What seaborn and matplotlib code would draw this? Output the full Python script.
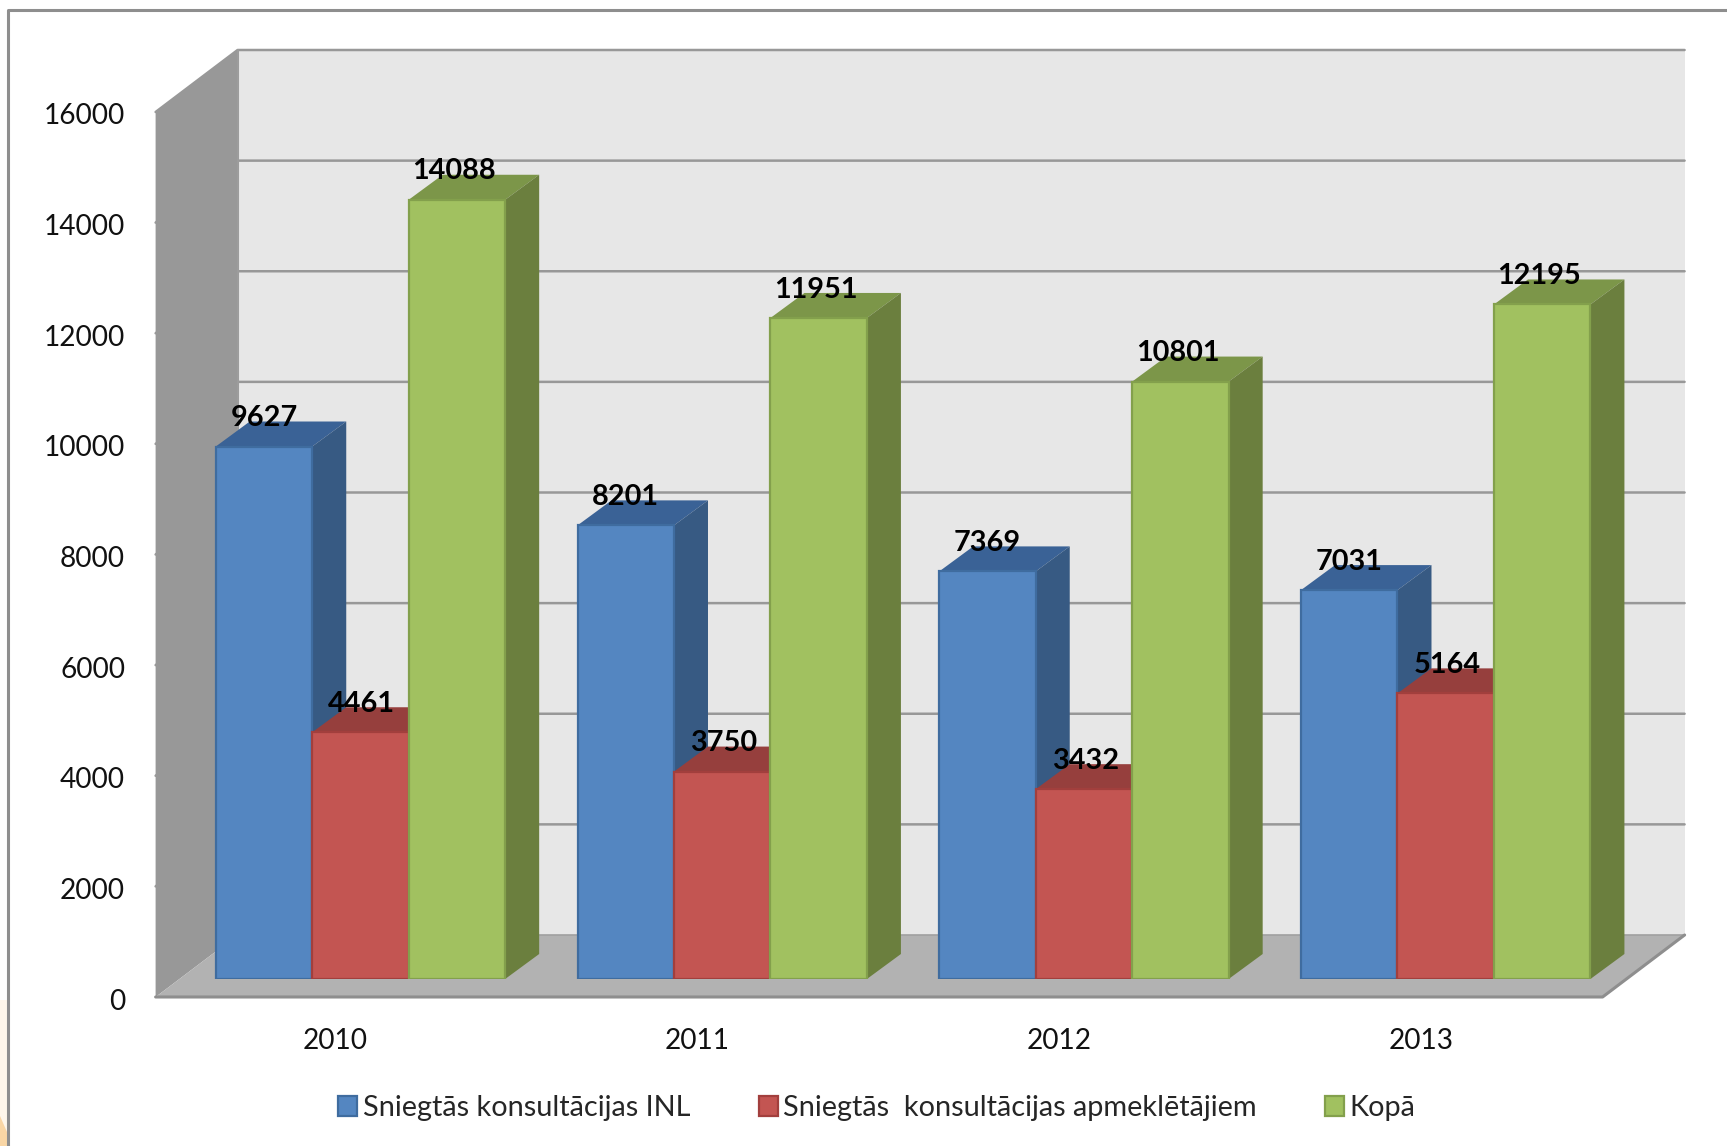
import numpy as np
import pandas as pd
import matplotlib
matplotlib.use('Agg')
import matplotlib.pyplot as plt
import seaborn as sns
from matplotlib.patches import Polygon
from matplotlib.lines import Line2D
from matplotlib.transforms import IdentityTransform, ScaledTranslation

years = ['2010', '2011', '2012', '2013']
inl = [9627, 8201, 7369, 7031]
apmekletaji = [4461, 3750, 3432, 5164]
kopa = [14088, 11951, 10801, 12195]
series_names = ['Sniegtās konsultācijas INL',
                'Sniegtās  konsultācijas apmeklētājiem',
                'Kopā']
y_ticks = list(range(0, 16001, 2000))

front_colors = ['#5486C1', '#C35552', '#A1C160']
edge_colors = ['#3F6C9F', '#A23F3D', '#83A04C']
side_colors = ['#375A83', '#8F3C3A', '#6B7F3E']
top_colors = ['#3A6296', '#963F3D', '#7C9649']
label_nudge = [0, 1, -2]

df = pd.DataFrame({
    'year': years * 3,
    'series': np.repeat(series_names, 4),
    'value': inl + apmekletaji + kopa,
})

sns.set_theme(style='white')
plt.rcParams['font.family'] = ['Lato', 'DejaVu Sans']

W, H = 1727, 1146
fig = plt.figure(figsize=(W / 100, H / 100), dpi=100, facecolor='white')
ax = fig.add_axes([179.6 / W, 1 - 979 / H, 1447 / W, 885 / H])

sns.barplot(data=df, x='year', y='value', hue='series', palette=front_colors,
            width=0.8, gap=0, saturation=1, ax=ax)
ax.set_xlim(-0.5, 3.5)
ax.set_ylim(0, 16000)
ax.set_xlabel('')
ax.set_ylabel('')
ax.patch.set_visible(False)
sns.despine(ax=ax, left=True, bottom=True)

# pixel offsets of the 3d planes, relative to the plane of the bar fronts
FRONT = (-24, -18)
BACK = (58, 44)
BAR_BACK = (34, 25)


def pt(x, y, off=(0, 0)):
    px = ax.transData.transform((x, y))
    return (px[0] + off[0], px[1] + off[1])


def poly(points, color, z, edge='none', lw=0):
    ax.add_patch(Polygon(points, closed=True, facecolor=color, edgecolor=edge, linewidth=lw,
                         transform=IdentityTransform(), clip_on=False, zorder=z))


def line(points, color, lw, z):
    xs, ys = zip(*points)
    ax.add_line(Line2D(xs, ys, color=color, linewidth=lw, transform=IdentityTransform(),
                       clip_on=False, zorder=z))


# walls and floor
poly([pt(-0.5, 0, BACK), pt(-0.5, 16000, BACK), pt(3.5, 16000, BACK), pt(3.5, 0, BACK)], '#E7E7E7', 1)
poly([pt(-0.5, 0, FRONT), pt(-0.5, 16000, FRONT), pt(-0.5, 16000, BACK), pt(-0.5, 0, BACK)], '#989898', 1)
poly([pt(-0.5, 0, FRONT), pt(3.5, 0, FRONT), pt(3.5, 0, BACK), pt(-0.5, 0, BACK)], '#B2B2B2', 2)

for v in y_ticks[1:]:
    line([pt(-0.5, v, FRONT), pt(-0.5, v, BACK), pt(3.5, v, BACK)], '#989898', 1.8, 3)
line([pt(-0.5, 0, BACK), pt(-0.5, 16000, BACK)], '#9C9C9C', 1.5, 3)
line([pt(-0.5, 0, BACK), pt(3.5, 0, BACK)], '#A0A0A0', 1.2, 3)
line([pt(-0.5, 0, FRONT), pt(3.5, 0, FRONT), pt(3.5, 0, BACK)], '#8E8E8E', 2.2, 3)

# 3d faces of the bars, left to right so each bar hides the side of the one before
for i, cont in enumerate(ax.containers):
    for j, bar in enumerate(cont.patches):
        order = j * 3 + i
        x0 = bar.get_x()
        x1 = x0 + bar.get_width()
        h = bar.get_height()
        poly([pt(x0, h), pt(x1, h), pt(x1, h, BAR_BACK), pt(x0, h, BAR_BACK)], top_colors[i], 10 + 2 * order)
        poly([pt(x1, 0), pt(x1, h), pt(x1, h, BAR_BACK), pt(x1, 0, BAR_BACK)], side_colors[i], 10 + 2 * order)
        bar.set_edgecolor(edge_colors[i])
        bar.set_linewidth(1.6)
        bar.set_zorder(11 + 2 * order)
    labels = ax.bar_label(cont, fmt='%d', padding=11, fontsize=20.8, fontweight='bold', color='black', zorder=100)
    for lab in labels:
        lab.xyann = (label_nudge[i], lab.xyann[1])

# axis labels sit on the front plane
ax.set_yticks(y_ticks)
ax.tick_params(axis='both', length=0, labelsize=20.2, labelcolor='#111111')
ax.tick_params(axis='y', pad=22)
ax.tick_params(axis='x', pad=22)
xshift = ScaledTranslation(-25 / 100, FRONT[1] / 100, fig.dpi_scale_trans)
yshift = ScaledTranslation(FRONT[0] / 100, -20 / 100, fig.dpi_scale_trans)
for lab in ax.get_xticklabels():
    lab.set_transform(lab.get_transform() + xshift)
for lab in ax.get_yticklabels():
    lab.set_transform(lab.get_transform() + yshift)

sns.move_legend(ax, 'center', bbox_to_anchor=(877 / W, 1 - 1108 / H), bbox_transform=fig.transFigure,
                ncol=3, frameon=False, title=None, fontsize=20.8, handlelength=0.66, handleheight=0.66,
                handletextpad=0.2, columnspacing=2.35)
leg = ax.get_legend()
for handle, c in zip(leg.legend_handles, edge_colors):
    handle.set_edgecolor(c)
    handle.set_linewidth(1.6)
leg.set_zorder(200)

# slide background showing left of the frame
fig.add_artist(Polygon([(0, 0), (0, 146 / H), (7 / W, 146 / H), (7 / W, 0)], closed=True,
                       facecolor='#FEF6EA', edgecolor='none', transform=fig.transFigure))
fig.add_artist(Polygon([(0, 0), (0, 30 / H), (7 / W, 14 / H), (7 / W, 0)], closed=True,
                       facecolor='#F9D6A5', edgecolor='none', transform=fig.transFigure))
# slide frame
fig.add_artist(Line2D([8 / W, 8 / W, 1], [0, 1 - 9.5 / H, 1 - 9.5 / H], color='#8E8E8E', linewidth=2.2))

fig.savefig('out.png', dpi=100)
